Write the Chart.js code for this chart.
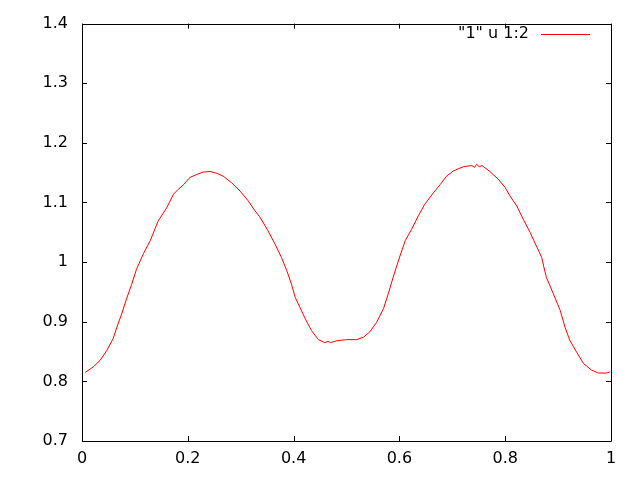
<!DOCTYPE html>
<html>
<head>
<meta charset="utf-8">
<script src="https://cdn.jsdelivr.net/npm/chart.js@4/dist/chart.umd.min.js"></script>
<style>
html,body{margin:0;padding:0;background:#fff;}
#wrap{width:640px;height:480px;position:relative;}
</style>
</head>
<body>
<div id="wrap"><canvas id="c" width="640" height="480"></canvas></div>
<script>
const seriesLabel = '"1" u 1:2';
const xs = [0.006,0.021,0.034,0.047,0.059,0.066,0.075,0.084,0.094,0.103,0.116,0.129,0.144,0.160,0.173,0.182,0.192,0.204,0.217,0.229,0.242,0.255,0.267,0.283,0.299,0.314,0.327,0.336,0.352,0.365,0.377,0.387,0.396,0.403,0.412,0.422,0.434,0.447,0.459,0.465,0.470,0.481,0.500,0.519,0.532,0.544,0.557,0.570,0.579,0.588,0.598,0.611,0.623,0.636,0.648,0.664,0.677,0.689,0.702,0.721,0.737,0.742,0.746,0.751,0.756,0.771,0.787,0.800,0.809,0.822,0.834,0.847,0.860,0.869,0.873,0.878,0.891,0.904,0.913,0.922,0.935,0.948,0.963,0.976,0.992,0.998];
const ys = [0.815,0.824,0.835,0.852,0.872,0.891,0.913,0.938,0.963,0.988,1.014,1.036,1.069,1.091,1.114,1.122,1.130,1.142,1.147,1.151,1.152,1.149,1.144,1.133,1.119,1.103,1.086,1.076,1.052,1.030,1.008,0.986,0.963,0.941,0.924,0.905,0.885,0.870,0.865,0.867,0.865,0.868,0.870,0.870,0.874,0.883,0.899,0.922,0.947,0.974,1.002,1.036,1.055,1.078,1.097,1.116,1.130,1.144,1.153,1.160,1.162,1.159,1.164,1.160,1.162,1.152,1.139,1.125,1.111,1.094,1.072,1.050,1.025,1.008,0.992,0.974,0.947,0.919,0.891,0.869,0.849,0.830,0.819,0.814,0.814,0.816];
const xTicks = [0,0.2,0.4,0.6,0.8,1];
const yTicks = [0.7,0.8,0.9,1.0,1.1,1.2,1.3,1.4];

const points = xs.map((x,i)=>({x:x,y:ys[i]}));
const FONT = {family:'"DejaVu Sans", sans-serif', size:16};

const framePlugin = {
  id:'frame',
  afterDatasetsDraw(chart){
    const ctx = chart.ctx, a = chart.chartArea;
    const xs_ = chart.scales.x, ys_ = chart.scales.y;
    ctx.save();
    ctx.strokeStyle = '#000';
    ctx.lineWidth = 1;
    ctx.beginPath();
    ctx.rect(Math.round(a.left)+0.5, Math.round(a.top)+0.5, Math.round(a.right-a.left), Math.round(a.bottom-a.top));
    ctx.stroke();
    const L = 5;
    ctx.beginPath();
    yTicks.forEach(v=>{
      const y = Math.round(ys_.getPixelForValue(v))+0.5;
      ctx.moveTo(a.left, y); ctx.lineTo(a.left+L, y);
      ctx.moveTo(a.right, y); ctx.lineTo(a.right-L, y);
    });
    xTicks.forEach(v=>{
      const x = Math.round(xs_.getPixelForValue(v))+0.5;
      ctx.moveTo(x, a.bottom); ctx.lineTo(x, a.bottom-L);
      ctx.moveTo(x, a.top); ctx.lineTo(x, a.top+L);
    });
    ctx.stroke();
    // legend
    ctx.font = '16px "DejaVu Sans", sans-serif';
    ctx.fillStyle = '#000';
    ctx.textAlign = 'right';
    ctx.textBaseline = 'middle';
    ctx.fillText(seriesLabel, 529, 34);
    ctx.strokeStyle = '#ff0000';
    ctx.beginPath();
    ctx.moveTo(541, 34.5); ctx.lineTo(590, 34.5);
    ctx.stroke();
    ctx.restore();
  }
};

new Chart(document.getElementById('c'), {
  type:'line',
  data:{datasets:[{label:seriesLabel, data:points, borderColor:'#ff0000', borderWidth:1, pointRadius:0, tension:0, fill:false}]},
  options:{
    responsive:false, animation:false,
    layout:{padding:{top:22, right:29, left:0, bottom:0}},
    plugins:{legend:{display:false}, tooltip:{enabled:false}},
    scales:{
      x:{type:'linear', min:0, max:1,
         grid:{display:false, drawTicks:false}, border:{display:false},
         afterBuildTicks(s){ s.ticks = xTicks.map(v=>({value:v})); },
         afterFit(s){ s.height = 39; },
         ticks:{color:'#000', font:FONT, padding:8, maxRotation:0, autoSkip:false,
                callback:v=>String(+(+v).toFixed(1))}},
      y:{type:'linear', min:0.7, max:1.4,
         grid:{display:false, drawTicks:false}, border:{display:false},
         afterBuildTicks(s){ s.ticks = yTicks.map(v=>({value:v})); },
         afterFit(s){ s.width = 82; },
         ticks:{color:'#000', font:FONT, padding:14, autoSkip:false,
                callback:v=>String(+(+v).toFixed(1))}}
    }
  },
  plugins:[framePlugin]
});
</script>
</body>
</html>
